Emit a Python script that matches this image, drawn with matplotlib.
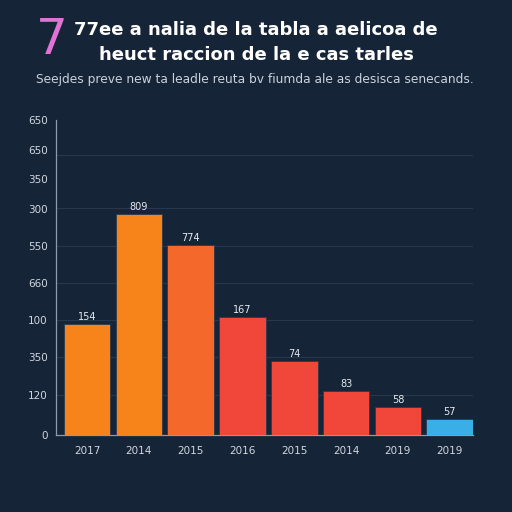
import matplotlib
matplotlib.use("Agg")
import matplotlib.pyplot as plt
import numpy as np

# data (heights in axis units, labels as printed)
years = ["2017", "2014", "2015", "2016", "2015", "2014", "2019", "2019"]
heights = [111, 221, 190, 118, 74, 44, 28, 16]
value_labels = ["154", "809", "774", "167", "74", "83", "58", "57"]
colors = ["#F7831B", "#F7831B", "#F4692B", "#F1473A", "#F1473A", "#F1473A", "#F1473A", "#3AAEE6"]

ytick_pos = [0, 40, 78, 115, 152, 189, 226, 256, 285, 315]
ytick_labels = ["0", "120", "350", "100", "660", "550", "300", "350", "650", "650"]
grid_pos = [40, 78, 115, 152, 189, 227, 280]

bg = "#162437"
fig = plt.figure(figsize=(5.12, 5.12), dpi=100, facecolor=bg)
ax = fig.add_axes([56 / 512, 77 / 512, 417 / 512, 315 / 512], facecolor=bg)

x = np.arange(len(years))
bars = ax.bar(x, heights, width=0.9, color=colors, edgecolor="#2a3a50", linewidth=0.6, zorder=3)
for b, lab in zip(bars, value_labels):
    ax.text(b.get_x() + b.get_width() / 2, b.get_height() + 2, lab,
            ha="center", va="bottom", color="#e6ebf2", fontsize=7)

for g in grid_pos:
    ax.axhline(g, color="#26384d", linewidth=0.8, zorder=1)

ax.set_xlim(-0.6, 7.45)
ax.set_ylim(0, 315)
ax.set_xticks(x)
ax.set_xticklabels(years)
ax.set_yticks(ytick_pos)
ax.set_yticklabels(ytick_labels)
ax.tick_params(colors="#d0d7e0", labelsize=7.5, length=0, pad=6)
ax.tick_params(axis="x", pad=8)
for s in ["top", "right"]:
    ax.spines[s].set_visible(False)
for s in ["left", "bottom"]:
    ax.spines[s].set_color("#8d9bb0")
    ax.spines[s].set_linewidth(0.9)

# title block
fig.text(36 / 512, 1 - 40 / 512, "7", color="#E273D6", fontsize=36, ha="left", va="center")
fig.text(256 / 512, 1 - 30 / 512, "77ee a nalia de la tabla a aelicoa de", color="white",
         fontsize=13, fontweight="bold", ha="center", va="center")
fig.text(256 / 512, 1 - 55 / 512, "heuct raccion de la e cas tarles", color="white",
         fontsize=13, fontweight="bold", ha="center", va="center")
fig.text(255 / 512, 1 - 80 / 512,
         "Seejdes preve new ta leadle reuta bv fiumda ale as desisca senecands.",
         color="#c9d2dd", fontsize=8.8, ha="center", va="center")

plt.savefig("out.png", dpi=100, facecolor=bg)
